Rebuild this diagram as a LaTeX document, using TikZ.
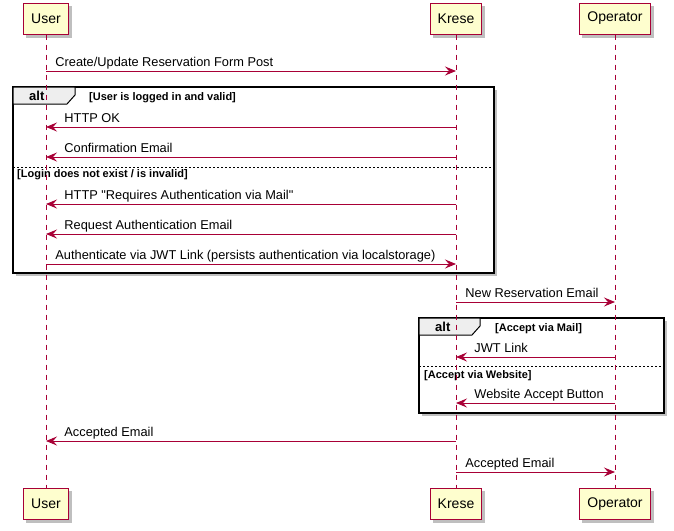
\documentclass[tikz,border=0pt]{standalone}
\usepackage{fontspec}
\setmainfont{Liberation Sans}
\usetikzlibrary{arrows.meta, backgrounds}
\definecolor{umlred}{HTML}{A80036}
\definecolor{umlfill}{HTML}{FEFECE}
\definecolor{tabfill}{HTML}{EEEEEE}
\tikzset{umlshadow/.style={fill=black!25, draw=none},
         actor/.style={rectangle, draw=umlred, fill=umlfill, line width=1pt, minimum height=31pt, inner xsep=7.5pt, font=\fontsize{14}{16}\selectfont},
         lifeline/.style={draw=umlred, line width=0.8pt, dash pattern=on 5pt off 5pt},
         msg/.style={draw=umlred, line width=0.9pt, -{Stealth[length=11pt, width=9pt, inset=4pt]}},
         msglabel/.style={anchor=base west, inner sep=0pt, font=\fontsize{12.8}{15}\selectfont},
         altframe/.style={draw=black, fill=white, line width=1.5pt},
         alttab/.style={draw=black, fill=tabfill, line width=1pt},
         guard/.style={anchor=base west, inner sep=0pt, font=\bfseries\fontsize{11}{13}\selectfont},
         divider/.style={draw=black, line width=0.6pt, dash pattern=on 2pt off 2pt}}

\begin{document}
\begin{tikzpicture}[x=1pt, y=-1pt]
        \useasboundingbox (0,0) rectangle (674,530);

        % participants
        \node (userT)[actor] at (46,18.5) {User};
        \node (kreseT)[actor] at (456,18.5) {Krese};
        \node (operT)[actor] at (615,18.5) {Operator};
        \node (userB)[actor] at (46,504) {User};
        \node (kreseB)[actor] at (456,504) {Krese};
        \node (operB)[actor] at (615,504) {Operator};
        \begin{scope}[on background layer]
            \foreach \p in {userT, kreseT, operT, userB, kreseB, operB}
                \fill [umlshadow] ([shift={(3pt,-3pt)}]\p.south west) rectangle ([shift={(3pt,-3pt)}]\p.north east);
        \end{scope}

        % alt frames
        \fill [umlshadow] (16,90) rectangle (497,276);
        \draw [altframe] (13,87) rectangle (494,273);
        \filldraw [alttab] (13,87) -- (75,87) -- (75,95) -- (67,104) -- (13,104) -- cycle;
        \node [guard, font=\bfseries\fontsize{13}{15}\selectfont] at (29,100) {alt};
        \node [guard] at (89,100) {[User is logged in and valid]};
        \draw [divider] (13,167) -- (494,167);
        \node [guard] at (17,177.5) {[Login does not exist / is invalid]};

        \fill [umlshadow] (422,321) rectangle (667,416);
        \draw [altframe] (419,318) rectangle (664,413);
        \filldraw [alttab] (419,318) -- (480,318) -- (480,326) -- (472,335) -- (419,335) -- cycle;
        \node [guard, font=\bfseries\fontsize{13}{15}\selectfont] at (435,331.5) {alt};
        \node [guard] at (495,331.5) {[Accept via Mail]};
        \draw [divider] (419,366) -- (664,366);
        \node [guard] at (424,378) {[Accept via Website]};

        % lifelines
        \draw [lifeline] (userT) -- (userB);
        \draw [lifeline] (kreseT) -- (kreseB);
        \draw [lifeline] (operT) -- (operB);

        % messages
        \draw [msg] (userT |- 0,71) -- node[msglabel, at start, xshift=9pt, yshift=4.5pt]{Create/Update Reservation Form Post} (kreseT |- 0,71);
        \draw [msg] (kreseT |- 0,127) -- node[msglabel, at end, xshift=18pt, yshift=4.5pt]{HTTP OK} (userT |- 0,127);
        \draw [msg] (kreseT |- 0,157) -- node[msglabel, at end, xshift=18pt, yshift=4.5pt]{Confirmation Email} (userT |- 0,157);
        \draw [msg] (kreseT |- 0,204) -- node[msglabel, at end, xshift=18pt, yshift=4.5pt]{HTTP \textquotedbl Requires Authentication via Mail\textquotedbl} (userT |- 0,204);
        \draw [msg] (kreseT |- 0,234) -- node[msglabel, at end, xshift=18pt, yshift=4.5pt]{Request Authentication Email} (userT |- 0,234);
        \draw [msg] (userT |- 0,264) -- node[msglabel, at start, xshift=9pt, yshift=4.5pt]{Authenticate via JWT Link (persists authentication via localstorage)} (kreseT |- 0,264);
        \draw [msg] (kreseT |- 0,302) -- node[msglabel, at start, xshift=9pt, yshift=4.5pt]{New Reservation Email} (operT |- 0,302);
        \draw [msg] (operT |- 0,357) -- node[msglabel, at end, xshift=18pt, yshift=4.5pt]{JWT Link} (kreseT |- 0,357);
        \draw [msg] (operT |- 0,403) -- node[msglabel, at end, xshift=18pt, yshift=4.5pt]{Website Accept Button} (kreseT |- 0,403);
        \draw [msg] (kreseT |- 0,441) -- node[msglabel, at end, xshift=18pt, yshift=4.5pt]{Accepted Email} (userT |- 0,441);
        \draw [msg] (kreseT |- 0,472) -- node[msglabel, at start, xshift=9pt, yshift=4.5pt]{Accepted Email} (operT |- 0,472);
    \end{tikzpicture}
\end{document}
